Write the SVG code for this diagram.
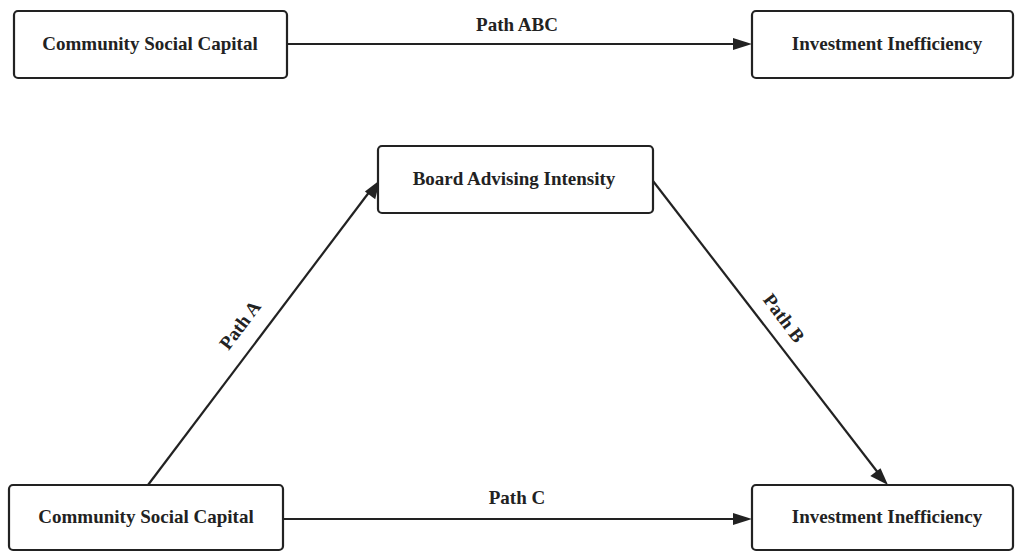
<svg xmlns="http://www.w3.org/2000/svg" width="1016" height="552" viewBox="0 0 1016 552">
<style>
.box{fill:#fff;stroke:#222;stroke-width:2.2}
.t{font-family:"Liberation Serif",serif;font-weight:bold;font-size:19px;fill:#222;text-anchor:middle;dominant-baseline:central}
.ln{stroke:#222;stroke-width:2.2;fill:none}
.hd{fill:#222}
</style>
<rect width="1016" height="552" fill="#fff"/>
<g id="connectors">
<line class="ln" x1="287" y1="44" x2="736" y2="44"/>
<path class="hd" d="M733,38 L752,44 L733,50 Z"/>
<line class="ln" x1="283" y1="519" x2="736" y2="519"/>
<path class="hd" d="M733,513 L752,519 L733,525 Z"/>
<line class="ln" x1="148" y1="485" x2="370" y2="191"/>
<path class="hd" d="M380,180 L375.2,199.3 L364.9,191.6 Z"/>
<line class="ln" x1="653" y1="181" x2="879" y2="474"/>
<path class="hd" d="M888,485 L870.3,476.1 L880.5,468.3 Z"/>
<text class="t" x="517" y="24">Path ABC</text>
<text class="t" x="517" y="497">Path C</text>
<text class="t" transform="translate(240,325) rotate(-53)">Path A</text>
<text class="t" transform="translate(784,318) rotate(53)">Path B</text>
</g>
<g id="n1"><rect class="box" x="14" y="11" width="273" height="67" rx="4"/><text class="t" x="150" y="43">Community Social Capital</text></g>
<g id="n2"><rect class="box" x="752" y="11" width="261" height="67" rx="4"/><text class="t" x="887" y="43">Investment Inefficiency</text></g>
<g id="n3"><rect class="box" x="378" y="146" width="275" height="67" rx="4"/><text class="t" x="514" y="178">Board Advising Intensity</text></g>
<g id="n4"><rect class="box" x="9" y="485" width="274" height="65" rx="4"/><text class="t" x="146" y="516">Community Social Capital</text></g>
<g id="n5"><rect class="box" x="752" y="485" width="261" height="65" rx="4"/><text class="t" x="887" y="516">Investment Inefficiency</text></g>
</svg>
